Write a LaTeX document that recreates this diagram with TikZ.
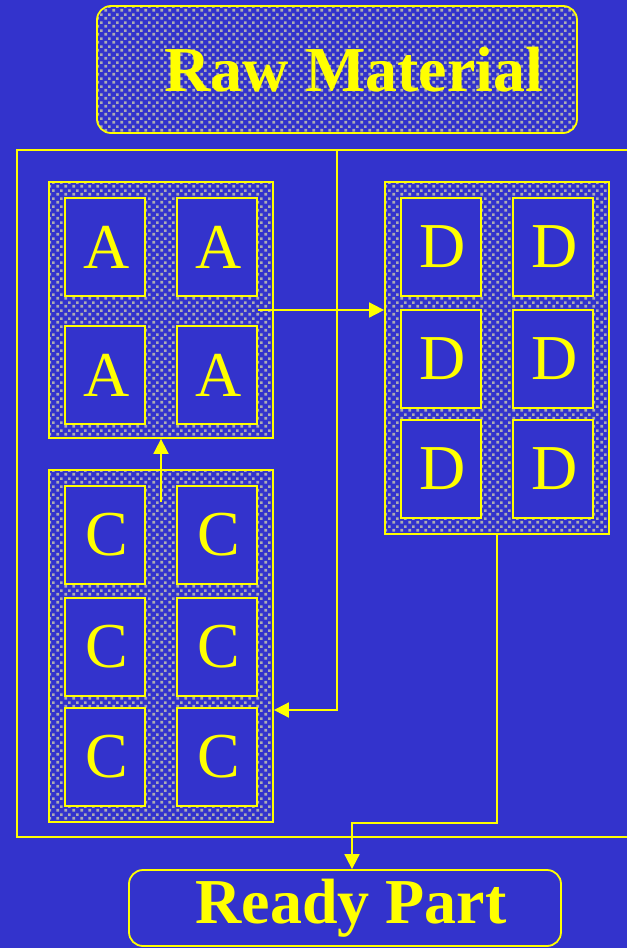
\documentclass[tikz,border=0pt]{standalone}
\usepackage{fontspec}
\setmainfont{Liberation Serif}
\usetikzlibrary{arrows.meta,patterns}
\definecolor{bgblue}{RGB}{51,51,204}
\definecolor{hiyel}{RGB}{255,255,0}
\definecolor{dotgrey}{RGB}{172,172,178}
\newcommand\headfont{\fontsize{64}{70}\selectfont\bfseries}
\newcommand\cellfont{\fontsize{64}{70}\selectfont}
\pgfdeclarepatternformonly{dither}{\pgfpointorigin}{\pgfpoint{8pt}{8pt}}{\pgfpoint{8pt}{8pt}}{%
  \pgfpathrectangle{\pgfpoint{0.5pt}{0.5pt}}{\pgfpoint{3pt}{3pt}}%
  \pgfpathrectangle{\pgfpoint{4.5pt}{4.5pt}}{\pgfpoint{3pt}{3pt}}%
  \pgfusepath{fill}}
\begin{document}
\begin{tikzpicture}[x=1pt,y=-1pt,
  wire/.style={draw=hiyel, line width=1.8pt},
  flow/.style={wire, -{Triangle[length=15pt,width=15pt]}},
  blk/.style={wire, pattern=dither, pattern color=dotgrey, minimum width=224pt, inner sep=0pt},
  cell/.style={wire, fill=bgblue, minimum width=80pt, minimum height=98pt, inner sep=0pt, text=hiyel, font=\cellfont},
  endbox/.style={wire, rounded corners=14pt, inner sep=0pt, text=hiyel, font=\headfont}]
\fill[bgblue] (0,0) rectangle (627,948);
\useasboundingbox (0,0) rectangle (627,948);
% source and sink
\node[endbox, pattern=dither, pattern color=dotgrey, minimum width=480pt, minimum height=127pt] (raw) at (337,69.5) {\hspace*{34pt}Raw Material};
\node[endbox, fill=bgblue, minimum width=432pt, minimum height=76pt] (ready) at (345,908) {\hspace*{12pt}Ready Part};
% frame
\draw[wire] (627,150) -| (17,837) -- (627,837);
\coordinate (tap) at (337,150);
% groups
\node[blk, minimum height=256pt] (ablk) at (161,310) {};
\node[blk, minimum height=352pt] (cblk) at (161,646) {};
\node[blk, minimum height=352pt] (dblk) at (497,358) {};
\node[cell] (a1) at (105,247) {\hspace*{3pt}A};
\node[cell] (a2) at (217,247) {\hspace*{3pt}A};
\node[cell] (a3) at (105,375) {\hspace*{3pt}A};
\node[cell] (a4) at (217,375) {\hspace*{3pt}A};
\node[cell] (c1) at (105,535) {\hspace*{3pt}C};
\node[cell] (c2) at (217,535) {\hspace*{3pt}C};
\node[cell] (c3) at (105,647) {\hspace*{3pt}C};
\node[cell] (c4) at (217,647) {\hspace*{3pt}C};
\node[cell] (c5) at (105,757) {\hspace*{3pt}C};
\node[cell] (c6) at (217,757) {\hspace*{3pt}C};
\node[cell] (d1) at (441,247) {\hspace*{3pt}D};
\node[cell] (d2) at (553,247) {\hspace*{3pt}D};
\node[cell] (d3) at (441,359) {\hspace*{3pt}D};
\node[cell] (d4) at (553,359) {\hspace*{3pt}D};
\node[cell] (d5) at (441,469) {\hspace*{3pt}D};
\node[cell] (d6) at (553,469) {\hspace*{3pt}D};
% flows
\draw[flow] (tap) |- ([yshift=-64pt]cblk.east);
\draw[flow] ([yshift=144pt]cblk.center) -- (ablk.south);
\draw[flow] ([xshift=97pt]ablk.center) -- (dblk.west |- ablk.center);
\draw[flow] (dblk.south) -- ++(0,288) -| ([xshift=7pt]ready.north);
\end{tikzpicture}
\end{document}
